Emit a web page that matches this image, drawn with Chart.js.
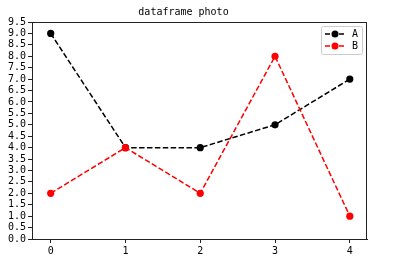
<!DOCTYPE html>
<html>
<head>
<meta charset="utf-8">
<script src="https://cdn.jsdelivr.net/npm/chart.js@4/dist/chart.umd.min.js"></script>
<style>
  html, body { margin: 0; padding: 0; background: #fff; }
  #wrap { width: 395px; height: 259px; }
</style>
</head>
<body>
<div id="wrap"><canvas id="dfChart"></canvas></div>
<script>
// Data
const xValues = [0, 1, 2, 3, 4];
const seriesA = [9, 4, 4, 5, 7];
const seriesB = [2, 4, 2, 8, 1];
const seriesNames = ['A', 'B'];
const titleText = 'dataframe photo';

const fontFamily = "'DejaVu Sans Mono', 'Noto Sans CJK SC', monospace";

function toPoints(ys) {
    return xValues.map((x, i) => ({ x: x, y: ys[i] }));
}

// Box round the plot area plus a matplotlib-like legend inside it
const framePlugin = {
    id: 'frame',
    afterDatasetsDraw(chart) {
        const { ctx, chartArea: a } = chart;
        ctx.save();
        ctx.strokeStyle = '#222';
        ctx.lineWidth = 1;
        ctx.strokeRect(Math.round(a.left) + 0.5, Math.round(a.top) + 0.5,
            Math.round(a.right - a.left) - 1, Math.round(a.bottom - a.top));

        // legend
        const boxW = 41, boxH = 28;
        const bx = a.right - boxW - 5, by = a.top + 4;
        ctx.fillStyle = 'rgba(255,255,255,0.8)';
        ctx.strokeStyle = '#ccc';
        ctx.beginPath();
        ctx.roundRect(bx + 0.5, by + 0.5, boxW, boxH, 2);
        ctx.fill();
        ctx.stroke();
        chart.data.datasets.forEach((ds, i) => {
            const ly = by + 8 + i * 12;
            ctx.strokeStyle = ds.borderColor;
            ctx.lineWidth = 1.5;
            ctx.setLineDash([5, 2]);
            ctx.beginPath();
            ctx.moveTo(bx + 4, ly);
            ctx.lineTo(bx + 24, ly);
            ctx.stroke();
            ctx.setLineDash([]);
            ctx.fillStyle = ds.backgroundColor;
            ctx.beginPath();
            ctx.arc(bx + 14, ly, 3.5, 0, Math.PI * 2);
            ctx.fill();
            ctx.fillStyle = '#000';
            ctx.font = '10px ' + fontFamily;
            ctx.textBaseline = 'middle';
            ctx.fillText(ds.label, bx + 31, ly + 0.5);
        });
        ctx.restore();
    }
};

const dfChart = new Chart(document.getElementById('dfChart').getContext('2d'), {
    type: 'line',
    data: {
        datasets: [
            {
                label: seriesNames[0],
                data: toPoints(seriesA),
                borderColor: '#000000',
                backgroundColor: '#000000',
                borderWidth: 1.5,
                borderDash: [5.5, 2.4],
                pointRadius: 3.6,
                pointBorderWidth: 0,
                order: 1
            },
            {
                label: seriesNames[1],
                data: toPoints(seriesB),
                borderColor: '#ff0000',
                backgroundColor: '#ff0000',
                borderWidth: 1.5,
                borderDash: [5.5, 2.4],
                pointRadius: 3.6,
                pointBorderWidth: 0,
                order: 0
            }
        ]
    },
    options: {
        responsive: true,
        maintainAspectRatio: false,
        animation: false,
        layout: { padding: { left: 0, right: 28, top: 0, bottom: 0 } },
        scales: {
            x: {
                type: 'linear',
                min: -0.25,
                max: 4.23,
                afterFit(scale) { scale.height = 20; },
                afterBuildTicks(scale) { scale.ticks = xValues.map(v => ({ value: v })); },
                grid: { display: true, drawOnChartArea: false, drawTicks: true, tickLength: 4, color: '#222' },
                border: { display: true, color: '#222' },
                ticks: { color: '#000', padding: 2, font: { family: fontFamily, size: 10 }, maxRotation: 0 }
            },
            y: {
                min: 0,
                max: 9.5,
                afterFit(scale) { scale.width = 32; },
                grid: { display: true, drawOnChartArea: false, drawTicks: true, tickLength: 4, color: '#222' },
                border: { display: true, color: '#222' },
                ticks: {
                    stepSize: 0.5,
                    autoSkip: false,
                    color: '#000',
                    padding: 2,
                    font: { family: fontFamily, size: 10 },
                    callback: v => v.toFixed(1)
                }
            }
        },
        plugins: {
            legend: { display: false },
            tooltip: { enabled: false },
            title: {
                display: true,
                text: titleText,
                color: '#000',
                font: { family: fontFamily, size: 10, weight: 'normal', lineHeight: 1.2 },
                padding: { top: 6, bottom: 4 }
            }
        }
    },
    plugins: [framePlugin]
});
</script>
</body>
</html>
